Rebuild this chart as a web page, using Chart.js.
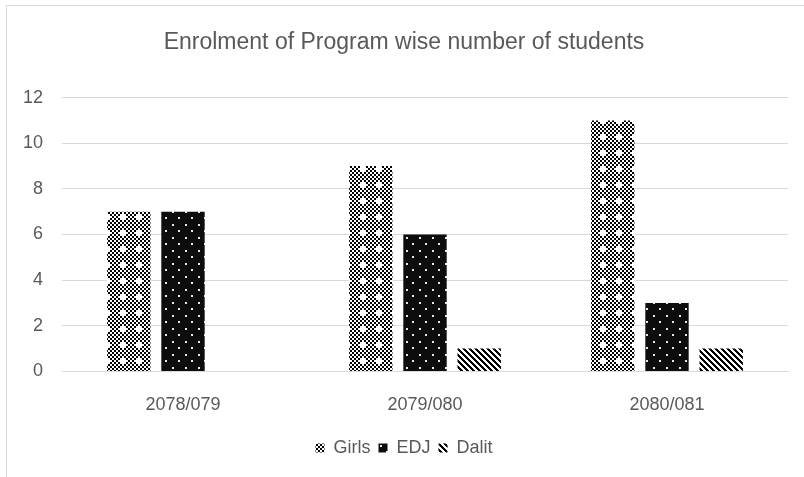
<!DOCTYPE html>
<html>
<head>
<meta charset="utf-8">
<script src="https://cdn.jsdelivr.net/npm/chart.js@4.4.1/dist/chart.umd.min.js"></script>
<style>
  html, body { margin: 0; padding: 0; background: #fff; }
  #wrap { width: 804px; height: 477px; position: relative; }
</style>
</head>
<body>
<div id="wrap"><canvas id="enrolment"></canvas></div>
<script>
const years = ["2078/079", "2079/080", "2080/081"];
const girls = [7, 9, 11];
const edj = [7, 6, 3];
const dalit = [0, 1, 1];
const tickLabels = [0, 2, 4, 6, 8, 10, 12];

// small tiles used as bar fills
function makeTile(w, h, draw) {
    let c = document.createElement("canvas");
    c.width = w; c.height = h;
    let ctx = c.getContext("2d");
    draw(ctx);
    return ctx.createPattern(c, "repeat");
}

// checkerboard with white crosses
const checkFill = makeTile(16, 16, (ctx)=> {
    ctx.fillStyle = "#fff";
    ctx.fillRect(0, 0, 16, 16);
    ctx.fillStyle = "#000";
    for(let y = 0; y < 8; y++)
        for(let x = 0; x < 8; x++)
            if((x + y) % 2 == 0)
                ctx.fillRect(x * 2, y * 2, 2, 2);
    ctx.fillStyle = "#fff";
    ctx.fillRect(10, 6, 2, 6);
    ctx.fillRect(8, 8, 6, 2);
});

// black with staggered white dots
const dotFill = makeTile(13, 13, (ctx)=> {
    ctx.fillStyle = "#0d0d0d";
    ctx.fillRect(0, 0, 13, 13);
    ctx.fillStyle = "#e8e8e8";
    ctx.fillRect(3, 3, 2, 2);
    ctx.fillRect(9, 9, 2, 2);
});

// wide downward diagonal stripes
const stripeFill = makeTile(6, 6, (ctx)=> {
    ctx.fillStyle = "#fff";
    ctx.fillRect(0, 0, 6, 6);
    ctx.fillStyle = "#000";
    for(let y = 0; y < 6; y++)
        for(let x = 0; x < 6; x++)
            if(((x - y) % 6 + 6) % 6 < 3)
                ctx.fillRect(x, y, 1, 1);
});

const frame = {
    id: "frame",
    beforeDraw(chart) {
        let ctx = chart.ctx;
        ctx.save();
        ctx.fillStyle = "#fff";
        ctx.fillRect(0, 0, chart.width, chart.height);
        ctx.strokeStyle = "#d9d9d9";
        ctx.lineWidth = 1;
        ctx.beginPath();
        ctx.moveTo(6.5, chart.height);
        ctx.lineTo(6.5, 5.5);
        ctx.lineTo(chart.width, 5.5);
        ctx.stroke();
        ctx.restore();
    }
};

window.onload = ()=> {
    new Chart("enrolment", {
        type: "bar",
        data: {
            labels: years,
            datasets: [
                {label: "Girls", data: girls, backgroundColor: checkFill},
                {label: "EDJ", data: edj, backgroundColor: dotFill},
                {label: "Dalit", data: dalit, backgroundColor: stripeFill}
            ]
        },
        plugins: [frame],
        options: {
            responsive: true,
            maintainAspectRatio: false,
            animation: false,
            categoryPercentage: 0.672,
            barPercentage: 0.8,
            layout: {padding: {left: 20, right: 16, top: 0, bottom: 10}},
            plugins: {
                title: {
                    display: true,
                    text: "Enrolment of Program wise number of students",
                    color: "#595959",
                    font: {family: "Liberation Sans", size: 23, weight: "normal"},
                    padding: {top: 29, bottom: 41}
                },
                legend: {
                    position: "bottom",
                    labels: {
                        boxWidth: 9,
                        boxHeight: 9,
                        padding: 8,
                        color: "#595959",
                        font: {family: "Liberation Sans", size: 18}
                    }
                },
                tooltip: {enabled: false}
            },
            scales: {
                x: {
                    afterFit: (axis)=> { axis.height -= 8; },
                    grid: {display: false, drawTicks: false},
                    border: {color: "#d9d9d9"},
                    ticks: {
                        color: "#595959",
                        padding: 23,
                        font: {family: "Liberation Sans", size: 18}
                    }
                },
                y: {
                    min: 0,
                    max: 12,
                    afterFit: (axis)=> { axis.width = 42; },
                    afterBuildTicks: (axis)=> {
                        axis.ticks = tickLabels.map(v => ({value: v}));
                    },
                    grid: {color: "#d9d9d9", drawTicks: false},
                    border: {display: false},
                    ticks: {
                        color: "#595959",
                        padding: 19,
                        font: {family: "Liberation Sans", size: 18}
                    }
                }
            }
        }
    });
};
</script>
</body>
</html>
